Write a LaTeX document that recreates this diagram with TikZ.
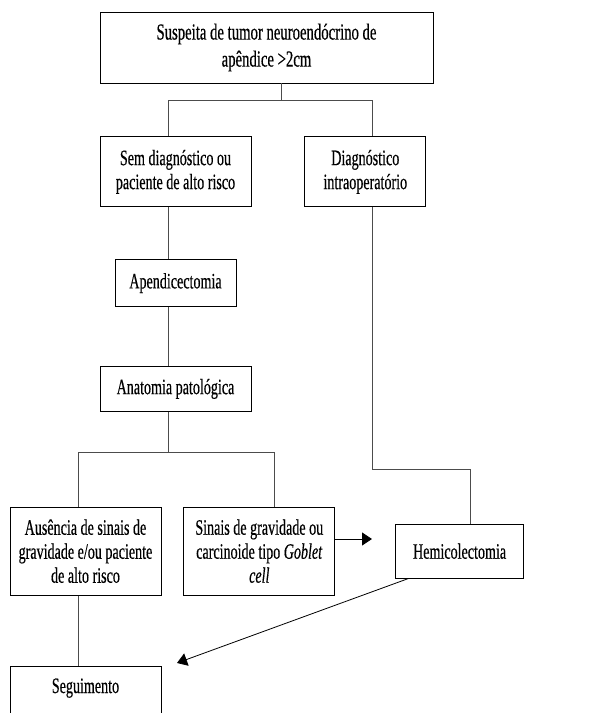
\documentclass[tikz,border=0pt]{standalone}
\usepackage{fontspec}
\setmainfont{Liberation Serif}[FakeStretch=0.64,FakeBold=0.4]
\usepackage{tikz}
\usetikzlibrary{positioning,arrows.meta,calc}
\tikzset{
box/.style={
draw,
line width=0.8pt,
inner sep=0pt,
align=center,
font=\fontsize{22}{24}\selectfont
},
link/.style={
draw=black!70,
line width=0.8pt
},
arrow/.style={
-{Triangle[length=10pt,width=13pt]},
line width=0.8pt
}
}

\begin{document}
\begin{tikzpicture}[x=1pt,y=-1pt]
\useasboundingbox (0,0) rectangle (612,713);
\node[box,minimum width=333pt,minimum height=71pt,font=\fontsize{23}{27}\selectfont](top) at (266.5,47.5){Suspeita de tumor neuroendócrino de\\apêndice >2cm};
\node[box,minimum width=151pt,minimum height=70pt,below=53pt of top.south west,anchor=north west](sem){Sem diagnóstico ou\\paciente de alto risco};
\node[box,minimum width=121pt,minimum height=70pt,right=53pt of sem.north east,anchor=north west](diag){Diagnóstico\\intraoperatório};
\node[box,minimum width=121pt,minimum height=47pt,below=52pt of sem.south,anchor=north](apend){Apendicectomia};
\node[box,minimum width=151pt,minimum height=45pt,below=59pt of apend.south,anchor=north](anat){Anatomia patológica};
\node[box,minimum width=151pt,minimum height=88pt,below=95pt of anat.south west,anchor=north west,xshift=-90pt](aus){Ausência de sinais de\\gravidade e/ou paciente\\de alto risco};
\node[box,minimum width=151pt,minimum height=88pt,right=22pt of aus.north east,anchor=north west](sinais){Sinais de gravidade ou\\carcinoide tipo \textit{Goblet}\\\textit{cell}};
\node[box,minimum width=128pt,minimum height=54pt,right=60pt of sinais.east,anchor=west](hemi){Hemicolectomia};
\node[box,minimum width=151pt,text height=27pt,text depth=40pt,below=70pt of aus.south west,anchor=north west](seg){Seguimento};

% junctions
\coordinate (j1) at (281,100);
\coordinate (lft) at (168,100);
\coordinate (rgt) at (372,100);
\coordinate (j2) at (168,452);
\coordinate (alft) at (78,452);
\coordinate (argt) at (274,452);
\coordinate (j3) at (372,469);
\coordinate (j4) at (470,469);
\coordinate (tip1) at (372,539);
\coordinate (tip2) at (177,663);

\draw[link](top.south -| j1)--(j1);
\draw[link](sem.north -| lft)--(lft)--(rgt)--(diag.north -| rgt);
\draw[link](sem.south -| lft)--(apend.north -| lft);
\draw[link](apend.south -| lft)--(anat.north -| lft);
\draw[link](anat.south -| j2)--(j2);
\draw[link](aus.north -| alft)--(alft)--(argt)--(sinais.north -| argt);
\draw[link](diag.south -| j3)--(j3)--(j4)--(hemi.north -| j4);
\draw[link](aus.south -| alft)--(seg.north -| alft);
\draw[arrow](sinais.east |- tip1)--(tip1);
\draw[arrow]($(hemi.south west)+(13,0)$)--(tip2);
\end{tikzpicture}
\end{document}
